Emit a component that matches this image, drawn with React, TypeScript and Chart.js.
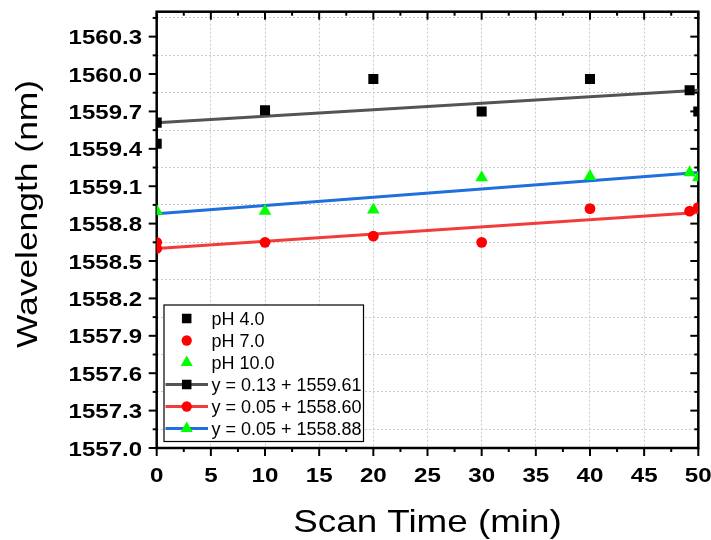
import React, { useEffect, useRef } from 'react';
import { Chart, registerables } from 'chart.js';

Chart.register(...registerables);

// ---- data ----
const ph4Time = [0, 0, 10, 20, 30, 40, 49.2, 50];
const ph4Wave = [1559.61, 1559.44, 1559.71, 1559.96, 1559.7, 1559.96, 1559.87, 1559.7];
const ph7Time = [0, 0, 10, 20, 30, 40, 49.2, 50];
const ph7Wave = [1558.65, 1558.6, 1558.65, 1558.7, 1558.65, 1558.92, 1558.9, 1558.93];
const ph10Time = [0, 10, 20, 30, 40, 49.2, 50];
const ph10Wave = [1558.9, 1558.9, 1558.91, 1559.17, 1559.18, 1559.21, 1559.17];
const fitTime = [0, 50];
const fitPh4 = [1559.61, 1559.87];
const fitPh7 = [1558.6, 1558.89];
const fitPh10 = [1558.88, 1559.21];

const seriesLabels = ['pH 4.0', 'pH 7.0', 'pH 10.0'];
const fitLabels = ['y = 0.13 + 1559.61', 'y = 0.05 + 1558.60', 'y = 0.05 + 1558.88'];

const xTicks = [0, 2.5, 5, 7.5, 10, 12.5, 15, 17.5, 20, 22.5, 25, 27.5, 30, 32.5, 35, 37.5, 40, 42.5, 45, 47.5, 50];
const yTicks = [
  1557.0, 1557.15, 1557.3, 1557.45, 1557.6, 1557.75, 1557.9, 1558.05, 1558.2, 1558.35, 1558.5, 1558.65,
  1558.8, 1558.95, 1559.1, 1559.25, 1559.4, 1559.55, 1559.7, 1559.85, 1560.0, 1560.15, 1560.3, 1560.45,
];
const xTitle = 'Scan Time (min)';
const yTitle = 'Wavelength (nm)';

const FONT = '"Liberation Sans", Arial, Helvetica, sans-serif';
const markerColors = ['#000000', '#ff0000', '#00ff00'];
const markerStyles = ['rect', 'circle', 'triangle'];
const markerRadii = [7.1, 5.4, 7.3];
const lineColors = ['#545454', '#f23c3c', '#1f6fdc'];

const toPoints = (xs: number[], ys: number[]) => xs.map((x, i) => ({ x, y: ys[i] }));

function stretchedText(
  ctx: CanvasRenderingContext2D,
  text: string,
  x: number,
  y: number,
  font: string,
  sx: number,
  align: CanvasTextAlign,
  rotate = 0,
) {
  ctx.save();
  ctx.translate(x, y);
  if (rotate) ctx.rotate(rotate);
  ctx.scale(sx, 1);
  ctx.font = font;
  ctx.textAlign = align;
  ctx.textBaseline = 'alphabetic';
  ctx.fillStyle = '#000';
  ctx.fillText(text, 0, 0);
  ctx.restore();
}

function drawMarker(ctx: CanvasRenderingContext2D, style: string, x: number, y: number, r: number, color: string) {
  ctx.save();
  ctx.fillStyle = color;
  ctx.beginPath();
  if (style === 'rect') {
    const s = r * Math.SQRT1_2;
    ctx.rect(x - s, y - s, 2 * s, 2 * s);
  } else if (style === 'circle') {
    ctx.arc(x, y, r, 0, Math.PI * 2);
  } else {
    ctx.moveTo(x, y - r);
    ctx.lineTo(x + 0.866 * r, y + 0.5 * r);
    ctx.lineTo(x - 0.866 * r, y + 0.5 * r);
    ctx.closePath();
  }
  ctx.fill();
  ctx.restore();
}

const axesPlugin = {
  id: 'originAxes',
  beforeDatasetsDraw(chart: any) {
    const { ctx, chartArea: a, scales } = chart;
    const xs = scales.x;
    const ys = scales.y;
    ctx.save();
    ctx.strokeStyle = '#000';
    ctx.lineWidth = 2;
    const seg = (x1: number, y1: number, x2: number, y2: number) => {
      ctx.beginPath();
      ctx.moveTo(x1, y1);
      ctx.lineTo(x2, y2);
      ctx.stroke();
    };
    xTicks.forEach((v) => {
      const px = xs.getPixelForValue(v);
      const major = Math.abs(v % 5) < 1e-6;
      const len = major ? 8 : 4;
      seg(px, a.bottom, px, a.bottom + len);
      seg(px, a.top, px, a.top + len);
      if (major) stretchedText(ctx, String(v), px, 481.5, `bold 21px ${FONT}`, 1.15, 'center');
    });
    yTicks.forEach((v, i) => {
      const py = ys.getPixelForValue(v);
      const major = i % 2 === 0;
      const len = major ? 8 : 4;
      seg(a.left - len, py, a.left, py);
      seg(a.right - len, py, a.right, py);
      if (major) stretchedText(ctx, v.toFixed(1), 142, py + 7.5, `bold 20px ${FONT}`, 1.2, 'right');
    });
    ctx.lineWidth = 2.5;
    ctx.strokeRect(a.left, a.top, a.right - a.left, a.bottom - a.top);
    ctx.restore();

    stretchedText(ctx, xTitle, (a.left + a.right) / 2, 532, `32px ${FONT}`, 1.15, 'center');
    stretchedText(ctx, yTitle, 37, 214, `30px ${FONT}`, 1.18, 'center', -Math.PI / 2);
  },
};

const legendPlugin = {
  id: 'insideLegend',
  afterDatasetsDraw(chart: any) {
    const { ctx } = chart;
    const box = { x: 164, y: 305, w: 199.5, h: 136.5 };
    ctx.save();
    ctx.fillStyle = '#fff';
    ctx.fillRect(box.x, box.y, box.w, box.h);
    ctx.strokeStyle = '#000';
    ctx.lineWidth = 1.2;
    ctx.strokeRect(box.x, box.y, box.w, box.h);
    const rowY0 = 318.5;
    const step = 22;
    const mx = 186.7;
    const tx = 211.5;
    seriesLabels.forEach((label, i) => {
      const ry = rowY0 + i * step;
      drawMarker(ctx, markerStyles[i], mx, ry, markerRadii[i] * 0.95, markerColors[i]);
      stretchedText(ctx, label, tx, ry + 6.5, `18px ${FONT}`, 1.0, 'left');
    });
    fitLabels.forEach((label, i) => {
      const ry = rowY0 + (i + 3) * step;
      ctx.save();
      ctx.strokeStyle = lineColors[i];
      ctx.lineWidth = 3;
      ctx.beginPath();
      ctx.moveTo(165.5, ry);
      ctx.lineTo(208, ry);
      ctx.stroke();
      ctx.restore();
      drawMarker(ctx, markerStyles[i], mx, ry, markerRadii[i] * 0.95, markerColors[i]);
      stretchedText(ctx, label, tx, ry + 6.5, `18px ${FONT}`, 1.0, 'left');
    });
    ctx.restore();
  },
};

export default function App() {
  const ref = useRef<HTMLCanvasElement>(null);
  useEffect(() => {
    const canvas = ref.current;
    if (!canvas) return;
    const scatterSets = [
      { t: ph4Time, w: ph4Wave },
      { t: ph7Time, w: ph7Wave },
      { t: ph10Time, w: ph10Wave },
    ].map((s, i) => ({
      label: seriesLabels[i],
      data: toPoints(s.t, s.w),
      showLine: false,
      pointStyle: markerStyles[i],
      pointRadius: markerRadii[i],
      pointHoverRadius: markerRadii[i],
      pointBackgroundColor: markerColors[i],
      pointBorderWidth: 0,
      borderColor: markerColors[i],
      backgroundColor: markerColors[i],
      clip: 0,
    }));
    const fitSets = [fitPh4, fitPh7, fitPh10].map((f, i) => ({
      label: fitLabels[i],
      data: toPoints(fitTime, f),
      showLine: true,
      pointRadius: 0,
      pointHoverRadius: 0,
      borderColor: lineColors[i],
      backgroundColor: lineColors[i],
      borderWidth: 3,
      fill: false,
      clip: 0,
    }));

    const chart = new Chart(canvas, {
      type: 'scatter',
      data: { datasets: [...scatterSets, ...fitSets] as any },
      options: {
        animation: false,
        responsive: false,
        devicePixelRatio: 1,
        events: [],
        layout: { padding: { left: 0, top: 11.7, right: 12.7, bottom: 0 } },
        plugins: { legend: { display: false }, tooltip: { enabled: false } },
        scales: {
          x: {
            type: 'linear',
            min: 0,
            max: 50,
            afterBuildTicks: (s: any) => {
              s.ticks = xTicks.map((v) => ({ value: v }));
            },
            afterFit: (s: any) => {
              s.height = 92;
              s.paddingLeft = 0;
              s.paddingRight = 0;
            },
            ticks: { display: false },
            grid: {
              drawTicks: false,
              lineWidth: 1,
              color: (c: any) => {
                const v = c.tick ? c.tick.value : 0;
                return Math.abs(v % 5) < 1e-6 && v > 0 && v < 50 ? '#cacaca' : 'rgba(0,0,0,0)';
              },
            },
            border: { display: false, dash: [2, 2] },
          },
          y: {
            type: 'linear',
            min: 1557.0,
            max: 1560.5,
            afterBuildTicks: (s: any) => {
              s.ticks = yTicks.map((v) => ({ value: v }));
            },
            afterFit: (s: any) => {
              s.width = 156.7;
              s.paddingTop = 0;
              s.paddingBottom = 0;
            },
            ticks: { display: false },
            grid: {
              drawTicks: false,
              lineWidth: 1,
              color: (c: any) => {
                const v = c.tick ? c.tick.value : 1557;
                const k = Math.round((v - 1557) / 0.15);
                return k % 2 === 1 ? '#cacaca' : 'rgba(0,0,0,0)';
              },
            },
            border: { display: false, dash: [2, 2] },
          },
        },
      },
      plugins: [axesPlugin, legendPlugin],
    });
    return () => chart.destroy();
  }, []);

  return (
    <div style={{ position: 'fixed', left: 0, top: 0, width: 711, height: 540, background: '#fff' }}>
      <canvas ref={ref} width={711} height={540} style={{ display: 'block', width: 711, height: 540 }} />
    </div>
  );
}
